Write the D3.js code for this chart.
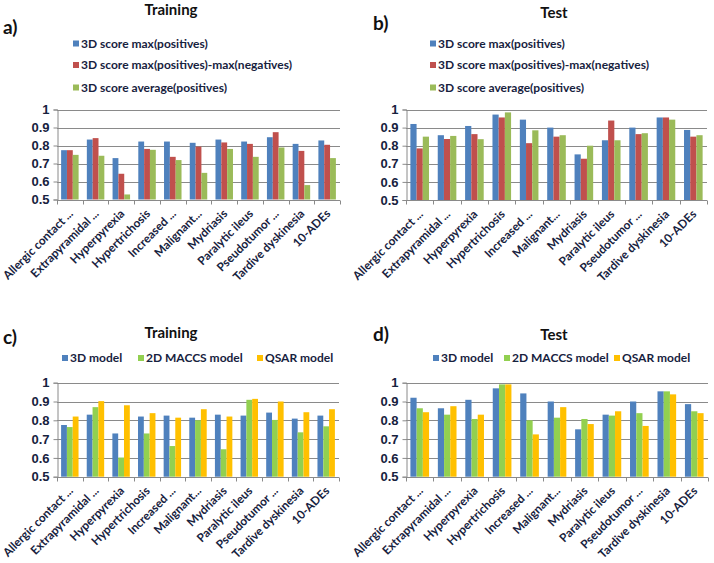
<!DOCTYPE html>
<html>
<head>
<meta charset="utf-8">
<script src="https://cdn.jsdelivr.net/npm/d3@7"></script>
<style>
  html, body { margin: 0; padding: 0; background: #fff; }
  svg { display: block; font-family: Lato, "Open Sans", "DejaVu Sans", sans-serif; }
</style>
</head>
<body>
<svg id="chart" width="714" height="563"></svg>
<script>
// ---------------- DATA ----------------
const categories = ["Allergic contact ...", "Extrapyramidal ...", "Hyperpyrexia", "Hypertrichosis",
  "Increased ...", "Malignant...", "Mydriasis", "Paralytic ileus", "Pseudotumor ...",
  "Tardive dyskinesia", "10-ADEs"];
const tickValues = [0.5, 0.6, 0.7, 0.8, 0.9, 1];
const tickLabels = ["0.5", "0.6", "0.7", "0.8", "0.9", "1"];

const scoreSeriesNames = ["3D score max(positives)", "3D score max(positives)-max(negatives)", "3D score average(positives)"];
const modelSeriesNames = ["3D model", "2D MACCS model", "QSAR model"];

// a) Training – 3D scores
const trainMaxPos    = [0.774, 0.833, 0.730, 0.822, 0.822, 0.815, 0.833, 0.822, 0.846, 0.809, 0.828];
const trainMaxPosNeg = [0.774, 0.841, 0.643, 0.781, 0.737, 0.794, 0.817, 0.809, 0.874, 0.770, 0.804];
const trainAvgPos    = [0.748, 0.743, 0.528, 0.776, 0.719, 0.648, 0.781, 0.737, 0.789, 0.580, 0.730];
// b) Test – 3D scores
const testMaxPos     = [0.920, 0.858, 0.909, 0.972, 0.944, 0.900, 0.752, 0.830, 0.900, 0.956, 0.887];
const testMaxPosNeg  = [0.785, 0.837, 0.864, 0.956, 0.814, 0.850, 0.728, 0.939, 0.864, 0.956, 0.850];
const testAvgPos     = [0.850, 0.854, 0.836, 0.984, 0.885, 0.858, 0.800, 0.830, 0.869, 0.944, 0.858];
// c) Training – models
const train3D        = [0.775, 0.830, 0.730, 0.820, 0.825, 0.814, 0.830, 0.825, 0.841, 0.809, 0.825];
const train2D        = [0.764, 0.870, 0.602, 0.730, 0.663, 0.800, 0.646, 0.909, 0.802, 0.736, 0.768];
const trainQSAR      = [0.820, 0.902, 0.880, 0.838, 0.814, 0.859, 0.820, 0.914, 0.900, 0.843, 0.859];
// d) Test – models
const test3D         = [0.920, 0.864, 0.909, 0.970, 0.943, 0.900, 0.752, 0.830, 0.900, 0.954, 0.886];
const test2D         = [0.864, 0.830, 0.807, 0.991, 0.800, 0.814, 0.807, 0.825, 0.838, 0.954, 0.848];
const testQSAR       = [0.843, 0.875, 0.830, 0.991, 0.725, 0.870, 0.780, 0.848, 0.770, 0.938, 0.838];

// ---------------- STYLE ----------------
const scoreColors = ["#4F81BD", "#C0504D", "#9BBB59"];
const modelColors = ["#4F81BD", "#92D050", "#FFC000"];
const gridColor = "#8A8A8A";
const textColor = "#17223E";

const svg = d3.select("#chart");

function drawPanel(cfg) {
  const g = svg.append("g");
  const n = categories.length;
  const x = d3.scaleBand().domain(categories).range([cfg.x0, cfg.x1]).paddingInner(0.32).paddingOuter(0.16);
  const y = d3.scaleLinear().domain([0.5, 1]).range([cfg.yBot, cfg.yTop]);
  const xs = d3.scaleBand().domain(d3.range(cfg.series.length)).range([0, x.bandwidth()]);

  // grid lines
  g.append("g")
    .selectAll("line").data(tickValues.slice(1)).join("line")
    .attr("x1", cfg.x0).attr("x2", cfg.x1)
    .attr("y1", d => Math.round(y(d)) + 0.5).attr("y2", d => Math.round(y(d)) + 0.5)
    .attr("stroke", gridColor).attr("stroke-width", 1);

  // bars
  cfg.series.forEach((vals, si) => {
    g.append("g")
      .selectAll("rect").data(vals).join("rect")
      .attr("x", (d, i) => x(categories[i]) + xs(si))
      .attr("width", xs.bandwidth())
      .attr("y", d => y(d))
      .attr("height", d => y(0.5) - y(d))
      .attr("fill", cfg.colors[si]);
  });

  // y axis
  const yAxis = d3.axisLeft(y).tickValues(tickValues).tickFormat((d, i) => tickLabels[i]).tickSize(4).tickPadding(4);
  const ya = g.append("g").attr("transform", `translate(${Math.round(cfg.x0) + 0.5},0)`).call(yAxis);
  ya.select(".domain").attr("stroke", gridColor);
  ya.selectAll(".tick line").attr("stroke", gridColor);
  ya.selectAll(".tick text").attr("fill", textColor).attr("font-size", 13).attr("font-weight", "bold");

  // x axis line + tick marks at category boundaries
  const yb = Math.round(cfg.yBot) + 0.5;
  g.append("line").attr("x1", cfg.x0).attr("x2", cfg.x1).attr("y1", yb).attr("y2", yb).attr("stroke", gridColor);
  g.append("g").selectAll("line").data(d3.range(n + 1)).join("line")
    .attr("x1", i => Math.round(cfg.x0 + i * x.step()) + 0.5)
    .attr("x2", i => Math.round(cfg.x0 + i * x.step()) + 0.5)
    .attr("y1", yb).attr("y2", yb + 4).attr("stroke", gridColor);

  // x labels
  g.append("g").selectAll("text").data(categories).join("text")
    .attr("transform", d => `translate(${x(d) + x.bandwidth() / 2 + 1},${cfg.yBot + 12}) rotate(-45)`)
    .attr("text-anchor", "end").attr("dy", "0.35em")
    .attr("font-size", 11.8).attr("font-weight", "bold").attr("fill", textColor)
    .text(d => d);

  // title + panel letter
  svg.append("text").attr("x", cfg.titleX).attr("y", cfg.titleY).attr("text-anchor", "middle")
    .attr("font-size", 15).attr("font-weight", "bold").attr("fill", "#111").text(cfg.title);
  svg.append("text").attr("x", cfg.letterX).attr("y", cfg.letterY)
    .attr("font-size", 19).attr("font-weight", "bold").attr("fill", "#111").text(cfg.letter);

  // legend
  const lg = svg.append("g");
  cfg.names.forEach((name, i) => {
    const p = cfg.legendPos[i];
    lg.append("rect").attr("x", p[0]).attr("y", p[1] - 3).attr("width", 6).attr("height", 6).attr("fill", cfg.colors[i]);
    lg.append("text").attr("x", p[0] + 8).attr("y", p[1]).attr("dy", "0.35em")
      .attr("font-size", 12).attr("font-weight", "bold").attr("fill", textColor).text(name);
  });
}

drawPanel({
  x0: 57, x1: 340, yTop: 109.5, yBot: 199.5,
  series: [trainMaxPos, trainMaxPosNeg, trainAvgPos], colors: scoreColors, names: scoreSeriesNames,
  title: "Training", titleX: 171, titleY: 15, letter: "a)", letterX: 3, letterY: 34,
  legendPos: [[73, 43.5], [73, 65], [73, 87.5]]
});
drawPanel({
  x0: 406, x1: 707, yTop: 109.5, yBot: 200,
  series: [testMaxPos, testMaxPosNeg, testAvgPos], colors: scoreColors, names: scoreSeriesNames,
  title: "Test", titleX: 554, titleY: 18, letter: "b)", letterX: 373, letterY: 30,
  legendPos: [[430, 43.5], [430, 65], [430, 87.5]]
});
drawPanel({
  x0: 57, x1: 339, yTop: 382.7, yBot: 476.7,
  series: [train3D, train2D, trainQSAR], colors: modelColors, names: modelSeriesNames,
  title: "Training", titleX: 171, titleY: 338, letter: "c)", letterX: 3, letterY: 344,
  legendPos: [[62, 358], [138, 358], [257, 358]]
});
drawPanel({
  x0: 406, x1: 708, yTop: 382.7, yBot: 476.7,
  series: [test3D, test2D, testQSAR], colors: modelColors, names: modelSeriesNames,
  title: "Test", titleX: 554, titleY: 340, letter: "d)", letterX: 373, letterY: 341,
  legendPos: [[433, 358], [504, 358], [614, 358]]
});
</script>
</body>
</html>
